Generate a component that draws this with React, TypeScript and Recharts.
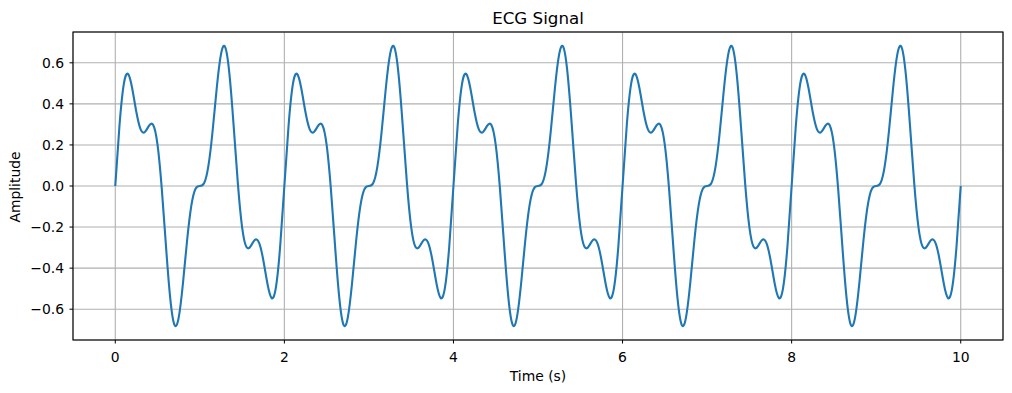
import { CartesianGrid, Line, LineChart, XAxis, YAxis } from "recharts";

const SAMPLE_STEP = 0.05; // seconds between samples

const beat1 = [
  0, 0.296, 0.494, 0.546, 0.476, 0.359, 0.276, 0.263, 0.294, 0.296,
  0.2, -0.013, -0.294, -0.546, -0.676, -0.641, -0.476, -0.263, -0.094, -0.013,
  0, 0.013, 0.094, 0.263, 0.476, 0.641, 0.676, 0.546, 0.294, 0.013,
  -0.2, -0.296, -0.294, -0.263, -0.276, -0.359, -0.476, -0.546, -0.494, -0.296,
];
const beat2 = [
  0, 0.296, 0.494, 0.546, 0.476, 0.359, 0.276, 0.263, 0.294, 0.296,
  0.2, -0.013, -0.294, -0.546, -0.676, -0.641, -0.476, -0.263, -0.094, -0.013,
  0, 0.013, 0.094, 0.263, 0.476, 0.641, 0.676, 0.546, 0.294, 0.013,
  -0.2, -0.296, -0.294, -0.263, -0.276, -0.359, -0.476, -0.546, -0.494, -0.296,
];
const beat3 = [
  0, 0.296, 0.494, 0.546, 0.476, 0.359, 0.276, 0.263, 0.294, 0.296,
  0.2, -0.013, -0.294, -0.546, -0.676, -0.641, -0.476, -0.263, -0.094, -0.013,
  0, 0.013, 0.094, 0.263, 0.476, 0.641, 0.676, 0.546, 0.294, 0.013,
  -0.2, -0.296, -0.294, -0.263, -0.276, -0.359, -0.476, -0.546, -0.494, -0.296,
];
const beat4 = [
  0, 0.296, 0.494, 0.546, 0.476, 0.359, 0.276, 0.263, 0.294, 0.296,
  0.2, -0.013, -0.294, -0.546, -0.676, -0.641, -0.476, -0.263, -0.094, -0.013,
  0, 0.013, 0.094, 0.263, 0.476, 0.641, 0.676, 0.546, 0.294, 0.013,
  -0.2, -0.296, -0.294, -0.263, -0.276, -0.359, -0.476, -0.546, -0.494, -0.296,
];
const beat5 = [
  0, 0.296, 0.494, 0.546, 0.476, 0.359, 0.276, 0.263, 0.294, 0.296,
  0.2, -0.013, -0.294, -0.546, -0.676, -0.641, -0.476, -0.263, -0.094, -0.013,
  0, 0.013, 0.094, 0.263, 0.476, 0.641, 0.676, 0.546, 0.294, 0.013,
  -0.2, -0.296, -0.294, -0.263, -0.276, -0.359, -0.476, -0.546, -0.494, -0.296,
];
const lastSample = [0];

const xTicks = [0, 2, 4, 6, 8, 10];
const yTicks = [-0.6, -0.4, -0.2, 0, 0.2, 0.4, 0.6];

const amplitude = [...beat1, ...beat2, ...beat3, ...beat4, ...beat5, ...lastSample];
const data = amplitude.map((v, i) => ({ t: Number((i * SAMPLE_STEP).toFixed(2)), v }));

const font = "'DejaVu Sans', sans-serif";
const tickStyle = { fill: "#000", fontSize: 13.9, fontFamily: font };

// plot box in page pixels
const plot = { left: 73, top: 32, right: 1003, bottom: 340 };

const fmtY = (v: number) => v.toFixed(1).replace("-", "\u2212");

export default function App() {
  return (
    <div style={{ position: "absolute", left: 0, top: 0, width: 1012, height: 393, background: "#fff" }}>
      <LineChart
        width={1012}
        height={393}
        data={data}
        margin={{ top: plot.top, right: 1012 - plot.right, bottom: 393 - plot.bottom - 30, left: 0 }}
      >
        <CartesianGrid stroke="#b0b0b0" strokeWidth={1.1} />
        <XAxis
          dataKey="t"
          type="number"
          domain={[-0.5, 10.5]}
          ticks={xTicks}
          height={30}
          axisLine={false}
          stroke="#000"
          tickSize={3.5}
          tickMargin={8.5}
          tick={tickStyle}
          allowDataOverflow
        />
        <YAxis
          type="number"
          domain={[-0.75, 0.75]}
          ticks={yTicks}
          width={plot.left}
          axisLine={false}
          stroke="#000"
          tickSize={3.5}
          tickMargin={5.5}
          tick={tickStyle}
          tickFormatter={fmtY}
          allowDataOverflow
        />
        <Line
          dataKey="v"
          type="natural"
          stroke="#1f77b4"
          strokeWidth={2.1}
          dot={false}
          isAnimationActive={false}
        />
      </LineChart>
      <svg
        width={1012}
        height={393}
        style={{ position: "absolute", left: 0, top: 0, pointerEvents: "none" }}
      >
        <rect
          x={plot.left}
          y={plot.top}
          width={plot.right - plot.left}
          height={plot.bottom - plot.top}
          fill="none"
          stroke="#000"
          strokeWidth={1.1}
        />
        <text x={538} y={24} textAnchor="middle" fontFamily={font} fontSize={16.7} fill="#000">
          ECG Signal
        </text>
        <text x={538} y={380.5} textAnchor="middle" fontFamily={font} fontSize={13.9} fill="#000">
          Time (s)
        </text>
        <text
          x={0}
          y={0}
          transform="translate(20,187) rotate(-90)"
          textAnchor="middle"
          fontFamily={font}
          fontSize={13.9}
          fill="#000"
        >
          Amplitude
        </text>
      </svg>
    </div>
  );
}
